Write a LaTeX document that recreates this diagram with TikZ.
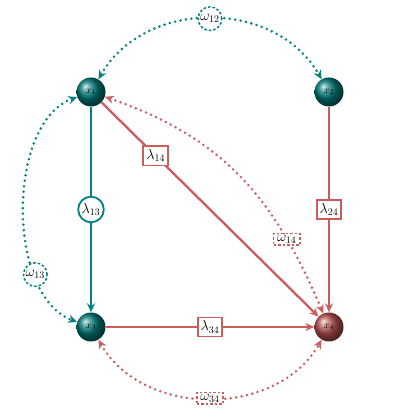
\documentclass[tikz,border=0pt]{standalone}
\usetikzlibrary{arrows.meta}
\definecolor{tealc}{RGB}{0,128,128}
\definecolor{tealball}{RGB}{0,120,120}
\definecolor{redc}{RGB}{205,92,92}
\definecolor{redball}{RGB}{180,78,78}
\begin{document}
\begin{tikzpicture}[x=1pt,y=1pt,
  ball/.style={circle,minimum size=29pt,inner sep=0pt,shading=ball,font=\normalsize},
  tball/.style={ball,ball color=tealball},
  rball/.style={ball,ball color=redball},
  tline/.style={draw=tealc,line width=2.3pt},
  rline/.style={draw=redc,line width=2.3pt},
  onetip/.style={-{Stealth[length=9pt,width=8pt]}},
  twotips/.style={{Stealth[length=9pt,width=8pt]}-{Stealth[length=9pt,width=8pt]}},
  dotline/.style={line width=2.8pt,line cap=round,dash pattern=on 0pt off 5.5pt},
  rlab/.style={draw=redc,line width=1.8pt,solid,fill=white,inner xsep=3pt,inner ysep=3.5pt,font=\Large},
  tclab/.style={circle,draw=tealc,line width=1.8pt,solid,fill=white,inner sep=1.2pt,font=\Large},
  tdlab/.style={circle,draw=tealc,line width=1.5pt,fill=white,inner sep=1pt,font=\Large,line cap=butt,dash pattern=on 2.5pt off 2pt},
  rdlab/.style={draw=redc,line width=1.5pt,fill=white,inner xsep=3.5pt,inner ysep=1.5pt,font=\Large,line cap=butt,dash pattern=on 2.5pt off 2pt}
]
\useasboundingbox (0,0) rectangle (420,420);
\node[tball] (x1) at (91,328) {$x_1$};
\node[tball] (x2) at (329,328) {$x_2$};
\node[tball] (x3) at (91,93) {$x_3$};
\node[rball] (x4) at (329,93) {$x_4$};

\draw[tline,onetip] (x1) -- node[tclab,pos=0.5] (l13) {$\lambda_{13}$} (x3);
\draw[rline,onetip] (x2) -- node[rlab,pos=0.5] (l24) {$\lambda_{24}$} (x4);
\draw[rline,onetip] (x1) -- node[rlab,pos=0.25] (l14) {$\lambda_{14}$} (x4);
\draw[rline,onetip] (x3) -- node[rlab,pos=0.5] (l34) {$\lambda_{34}$} (x4);

\draw[tline,dotline,twotips] (x1) .. controls +(60:108) and +(120:108) .. node[tdlab,pos=0.5] (w12) {$\omega_{12}$} (x2);
\draw[tline,dotline,twotips] (x1) .. controls +(200:90) and +(160:90) .. node[tdlab,pos=0.73] (w13) {$\omega_{13}$} (x3);
\draw[rline,dotline,twotips] (x1) .. controls +(-19:140) and +(113:140) .. node[rdlab,pos=0.76] (w14) {$\omega_{14}$} (x4);
\draw[rline,dotline,twotips] (x3) .. controls +(-60:105) and +(-120:105) .. node[rdlab,pos=0.5] (w34) {$\omega_{34}$} (x4);
\end{tikzpicture}
\end{document}
